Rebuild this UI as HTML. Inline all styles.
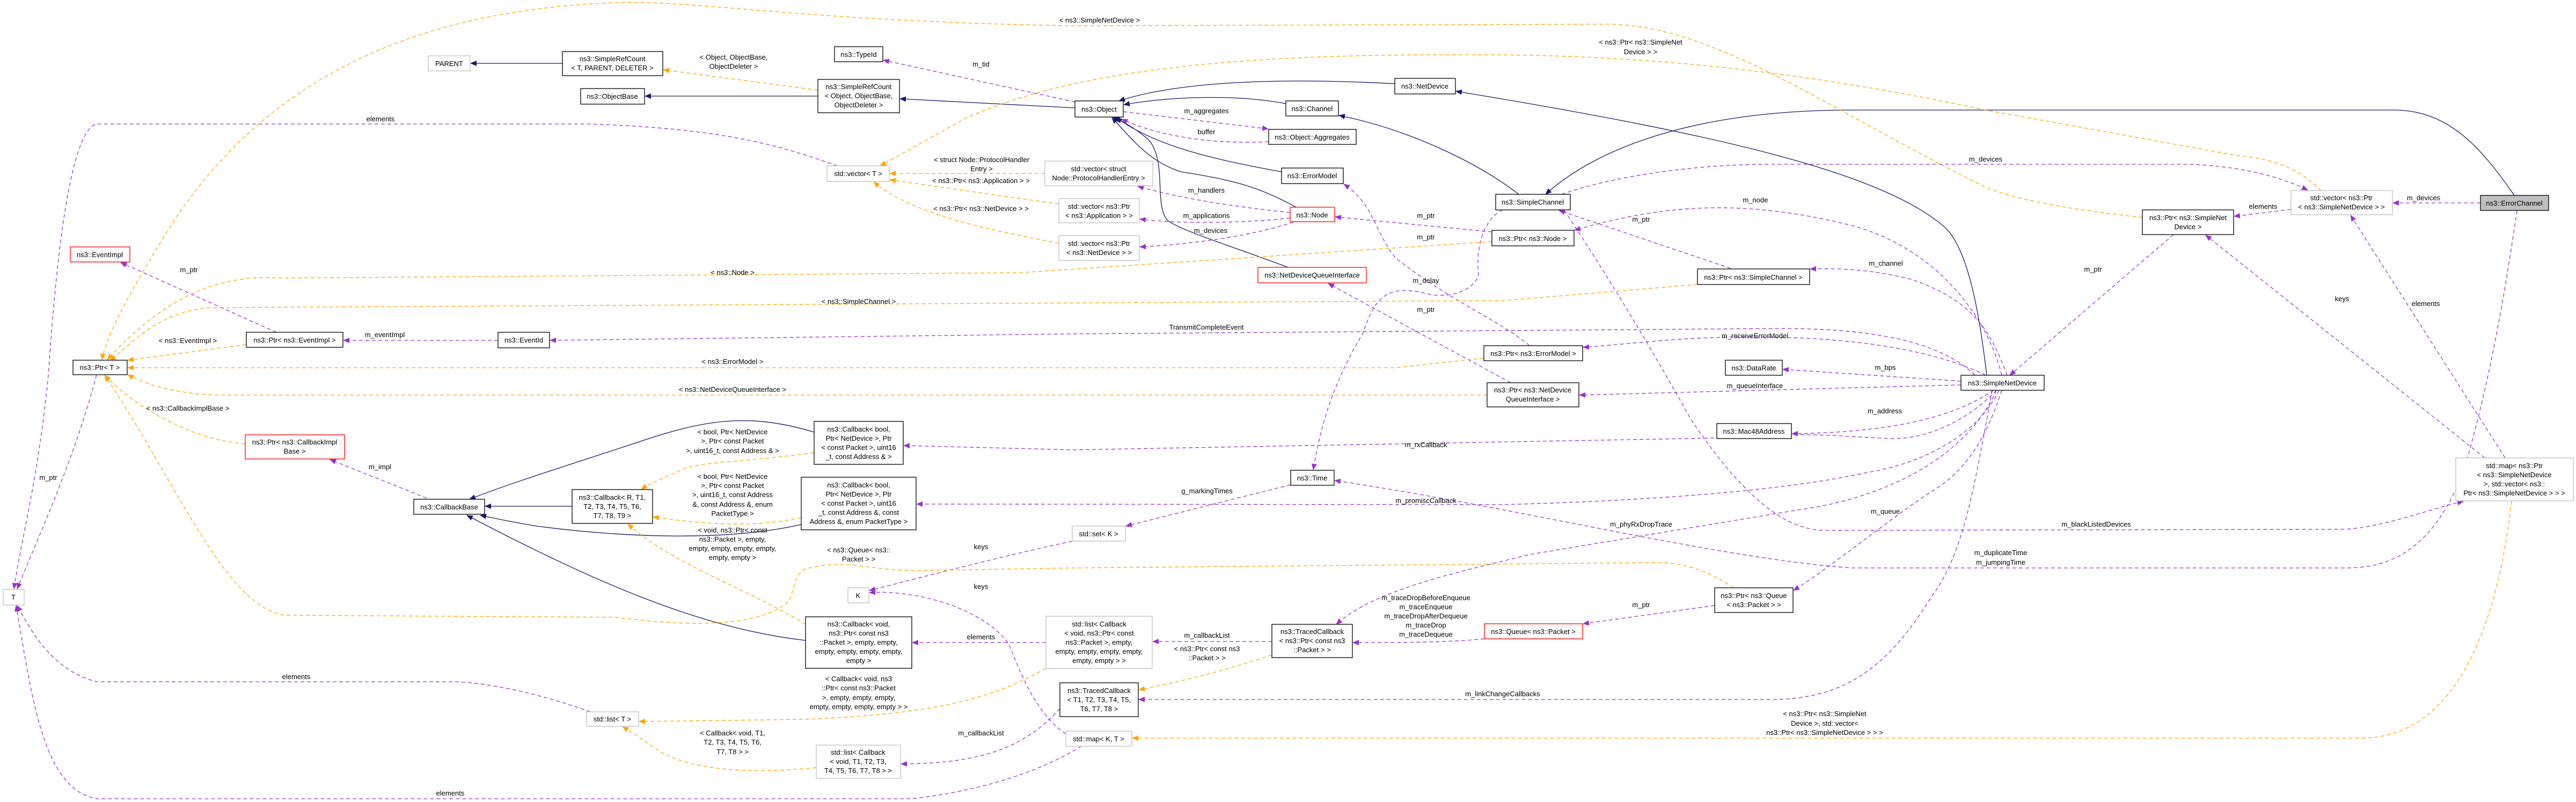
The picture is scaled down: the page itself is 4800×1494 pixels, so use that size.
<!DOCTYPE html>
<html><head><meta charset="utf-8"><style>
html,body{margin:0;padding:0;background:#fff;}
svg{display:block;}
text{font-family:"Liberation Sans",Arial,sans-serif;font-size:13px;fill:#000;}
.nt{text-anchor:middle;}
.lb{text-anchor:middle;}
.b{fill:#fff;stroke:#000;stroke-width:1.3;}
.g{fill:#fff;stroke:#bfbfbf;stroke-width:1.3;}
.r{fill:#fff;stroke:#ff0000;stroke-width:1.3;}
.f{fill:#bfbfbf;stroke:#000;stroke-width:1.3;}
.n{fill:none;stroke:#191970;stroke-width:1.3;}
.p{fill:none;stroke:#9a32cd;stroke-width:1.3;stroke-dasharray:7,5;}
.o{fill:none;stroke:#ffa500;stroke-width:1.3;stroke-dasharray:7,5;}
</style></head><body>
<svg width="4800" height="1494" viewBox="0 0 4800 1494" xmlns="http://www.w3.org/2000/svg">
<defs>
<marker id="an" markerWidth="12" markerHeight="10" refX="11" refY="5" orient="auto" markerUnits="userSpaceOnUse"><path d="M0,0 L12,5 L0,10 z" fill="#191970"/></marker>
<marker id="ap" markerWidth="12" markerHeight="10" refX="11" refY="5" orient="auto" markerUnits="userSpaceOnUse"><path d="M0,0 L12,5 L0,10 z" fill="#9a32cd"/></marker>
<marker id="ao" markerWidth="12" markerHeight="10" refX="11" refY="5" orient="auto" markerUnits="userSpaceOnUse"><path d="M0,0 L12,5 L0,10 z" fill="#ffa500"/></marker>
</defs>

<!-- ===== EDGES ===== -->
<!-- navy inheritance -->
<path class="n" marker-end="url(#an)" d="M1048,118 L877,118"/>
<path class="n" marker-end="url(#an)" d="M1524,179 L1202,179"/>
<path class="n" marker-end="url(#an)" d="M2003,201 L1677,184"/>
<path class="n" marker-end="url(#an)" d="M2396,193 C2300,175 2180,180 2094,195"/>
<path class="n" marker-end="url(#an)" d="M2599,156 C2400,145 2200,150 2085,188"/>
<path class="n" marker-end="url(#an)" d="M2388,320 C2250,295 2150,270 2080,219"/>
<path class="n" marker-end="url(#an)" d="M2415,386 C2350,350 2300,335 2200,320 C2140,300 2110,260 2072,219"/>
<path class="n" marker-end="url(#an)" d="M2400,498 C2300,460 2200,430 2175,410 C2150,380 2175,300 2140,260 C2110,235 2090,225 2075,219"/>
<path class="n" marker-end="url(#an)" d="M2830,362 C2750,300 2620,240 2495,215"/>
<path class="n" marker-end="url(#an)" d="M3702,699 C3690,600 3670,460 3620,420 C3500,320 3200,250 2713,170"/>
<path class="n" marker-end="url(#an)" d="M4685,364 C4620,270 4560,205 4460,205 L3450,205 C3150,205 2970,280 2880,362"/>
<path class="n" marker-end="url(#an)" d="M1066,943 L904,943"/>
<path class="n" marker-end="url(#an)" d="M1517,805 C1400,770 1320,780 1200,820 C1080,860 950,900 875,930"/>
<path class="n" marker-end="url(#an)" d="M1493,977 C1350,1010 1150,1000 1000,980 C950,972 920,965 895,960"/>
<path class="n" marker-end="url(#an)" d="M1501,1193 C1300,1170 1100,1080 870,960"/>

<!-- purple members -->
<path class="p" marker-end="url(#ap)" d="M2003,190 L1646,112"/>
<path class="p" marker-end="url(#ap)" d="M2093,208 L2363,240"/>
<path class="p" marker-end="url(#ap)" d="M2364,264 C2250,270 2150,250 2090,222"/>
<path class="p" marker-end="url(#ap)" d="M2404,396 C2300,385 2200,370 2120,347"/>
<path class="p" marker-end="url(#ap)" d="M2404,406 C2330,415 2200,418 2124,408"/>
<path class="p" marker-end="url(#ap)" d="M2410,414 C2330,440 2220,455 2124,460"/>
<path class="p" marker-end="url(#ap)" d="M4622,378 L4459,378"/>
<path class="p" marker-end="url(#ap)" d="M4269,390 L4163,403"/>
<path class="p" marker-end="url(#ap)" d="M4050,437 L3745,699"/>
<path class="p" marker-end="url(#ap)" d="M2910,362 C3000,330 3150,306 3300,306 L4080,306 C4180,310 4250,330 4300,354"/>
<path class="p" marker-end="url(#ap)" d="M3740,699 C3710,620 3680,560 3560,520 C3480,500 3420,500 3373,501"/>
<path class="p" marker-end="url(#ap)" d="M3225,500 L2905,392"/>
<path class="p" marker-end="url(#ap)" d="M3730,699 C3700,580 3600,460 3450,420 C3250,370 3100,380 2934,429"/>
<path class="p" marker-end="url(#ap)" d="M2780,432 L2488,404"/>
<path class="p" marker-end="url(#ap)" d="M2800,391 C2760,410 2750,470 2755,510 C2750,540 2700,560 2650,545 C2580,530 2560,560 2540,620 C2480,720 2460,800 2447,875"/>
<path class="p" marker-end="url(#ap)" d="M928,634 L640,634"/>
<path class="p" marker-end="url(#ap)" d="M515,619 L225,489"/>
<path class="p" marker-end="url(#ap)" d="M3680,699 C3620,640 3500,610 3300,612 L2000,622 L1025,634"/>
<path class="p" marker-end="url(#ap)" d="M2850,644 C2800,600 2700,560 2600,480 C2560,430 2560,380 2504,343"/>
<path class="p" marker-end="url(#ap)" d="M3700,699 C3600,650 3450,630 3300,628 C3150,625 3050,640 2950,647"/>
<path class="p" marker-end="url(#ap)" d="M2815,713 L2475,528"/>
<path class="p" marker-end="url(#ap)" d="M3654,710 L3322,688"/>
<path class="p" marker-end="url(#ap)" d="M3654,717 L2943,736"/>
<path class="p" marker-end="url(#ap)" d="M3715,727 C3650,770 3550,805 3339,808"/>
<path class="p" marker-end="url(#ap)" d="M3720,727 C3660,790 3580,820 3520,817 C3420,812 3360,805 3250,815 L2000,838 L1684,830"/>
<path class="p" marker-end="url(#ap)" d="M3725,727 C3690,800 3600,860 3480,880 C3300,920 3000,935 2800,940 L1708,939"/>
<path class="p" marker-end="url(#ap)" d="M4690,392 C4660,600 4630,744 4590,880 C4530,1030 4450,1058 4370,1058 L3450,1058 C3200,1040 2850,950 2487,895"/>
<path class="p" marker-end="url(#ap)" d="M2915,392 C2960,460 3050,600 3150,780 C3250,930 3330,988 3400,988 L4370,986 C4450,980 4520,950 4590,934"/>
<path class="p" marker-end="url(#ap)" d="M4630,853 L4110,438"/>
<path class="p" marker-end="url(#ap)" d="M4668,853 L4380,401"/>
<path class="p" marker-end="url(#ap)" d="M3730,727 C3700,820 3660,880 3600,915 C3530,960 3420,1050 3342,1100"/>
<path class="p" marker-end="url(#ap)" d="M3195,1128 L2950,1162"/>
<path class="p" marker-end="url(#ap)" d="M2766,1190 C2700,1197 2600,1197 2521,1197"/>
<path class="p" marker-end="url(#ap)" d="M2370,1195 L2148,1195"/>
<path class="p" marker-end="url(#ap)" d="M3720,727 C3660,860 3500,930 3350,950 L2850,1033 C2700,1070 2560,1100 2490,1163"/>
<path class="p" marker-end="url(#ap)" d="M3712,727 C3680,900 3660,1030 3600,1110 C3520,1240 3440,1303 3300,1303 L2122,1303"/>
<path class="p" marker-end="url(#ap)" d="M1949,1197 L1700,1197"/>
<path class="p" marker-end="url(#ap)" d="M1975,1320 C1920,1380 1850,1423 1679,1423"/>
<path class="p" marker-end="url(#ap)" d="M795,928 L615,856"/>
<path class="p" marker-end="url(#ap)" d="M180,698 C140,850 80,980 32,1097"/>
<path class="p" marker-end="url(#ap)" d="M1560,309 C1450,270 1350,240 1100,231 L180,231 C140,240 110,400 90,700 C70,900 40,1000 26,1097"/>
<path class="p" marker-end="url(#ap)" d="M1100,1326 C1000,1290 900,1270 840,1270 L180,1270 C100,1250 60,1180 32,1128"/>
<path class="p" marker-end="url(#ap)" d="M2015,1390 C1950,1430 1850,1470 1700,1488 L180,1488 C80,1470 60,1300 30,1128"/>
<path class="p" marker-end="url(#ap)" d="M1998,1008 C1850,1040 1700,1080 1620,1100"/>
<path class="p" marker-end="url(#ap)" d="M1986,1367 C1930,1330 1900,1250 1880,1200 C1830,1130 1700,1098 1620,1104"/>
<path class="p" marker-end="url(#ap)" d="M2405,903 L2098,980"/>

<!-- orange template -->
<path class="o" marker-end="url(#ao)" d="M1524,168 L1236,130"/>
<path class="o" marker-end="url(#ao)" d="M1947,323 L1658,323"/>
<path class="o" marker-end="url(#ao)" d="M1973,380 L1658,335"/>
<path class="o" marker-end="url(#ao)" d="M1973,453 C1850,430 1700,400 1628,339"/>
<path class="o" marker-end="url(#ao)" d="M4325,355 C4280,310 4230,295 4170,290 L3700,205 C3300,120 3000,100 2700,102 C2300,102 2000,130 1800,220 L1640,309"/>
<path class="o" marker-end="url(#ao)" d="M3992,405 C3850,390 3750,370 3700,349 C3400,200 3200,50 3000,45 L2000,48 C1500,40 1300,0 1150,5 C700,20 450,200 300,450 C220,580 195,640 190,670"/>
<path class="o" marker-end="url(#ao)" d="M2780,450 L1900,508 L520,518 C400,510 300,560 200,670"/>
<path class="o" marker-end="url(#ao)" d="M3163,530 L2800,560 L400,573 C300,575 245,640 205,672"/>
<path class="o" marker-end="url(#ao)" d="M459,642 L238,671"/>
<path class="o" marker-end="url(#ao)" d="M2765,667 L2600,685 L238,685"/>
<path class="o" marker-end="url(#ao)" d="M2771,736 L400,736 C320,732 270,715 238,698"/>
<path class="o" marker-end="url(#ao)" d="M3230,1095 C3180,1060 3130,1048 3090,1048 L2000,1058 L1700,1063 C1600,1060 1580,1040 1500,1060 C1480,1070 1480,1100 1470,1120 C1420,1165 1300,1170 1150,1150 L530,1146 C420,1130 330,900 195,699"/>
<path class="o" marker-end="url(#ao)" d="M457,827 C380,820 320,790 270,760 C240,740 215,720 195,699"/>
<path class="o" marker-end="url(#ao)" d="M2370,1220 C2280,1250 2200,1270 2122,1285"/>
<path class="o" marker-end="url(#ao)" d="M4680,933 C4650,1200 4560,1375 4400,1375 L2110,1375"/>
<path class="o" marker-end="url(#ao)" d="M1521,1430 C1420,1440 1300,1440 1230,1400 C1200,1380 1180,1365 1160,1354"/>
<path class="o" marker-end="url(#ao)" d="M1949,1245 C1850,1300 1750,1330 1500,1340 L1191,1344"/>
<path class="o" marker-end="url(#ao)" d="M1501,1163 C1400,1100 1250,1050 1170,976"/>
<path class="o" marker-end="url(#ao)" d="M1517,843 C1400,860 1300,860 1270,875 C1240,890 1210,900 1195,912"/>
<path class="o" marker-end="url(#ao)" d="M1493,964 C1400,985 1300,975 1217,963"/>

<!-- ===== EDGE LABELS ===== -->
<text class="lb" x="1367" y="111">&lt; Object, ObjectBase,</text>
<text class="lb" x="1367" y="128">ObjectDeleter &gt;</text>
<text class="lb" x="1828" y="124">m_tid</text>
<text class="lb" x="2248" y="211">m_aggregates</text>
<text class="lb" x="2248" y="250">buffer</text>
<text class="lb" x="2248" y="359">m_handlers</text>
<text class="lb" x="2248" y="406">m_applications</text>
<text class="lb" x="2256" y="434">m_devices</text>
<text class="lb" x="1829" y="302">&lt; struct Node::ProtocolHandler</text>
<text class="lb" x="1829" y="319">Entry &gt;</text>
<text class="lb" x="1828" y="341">&lt; ns3::Ptr&lt; ns3::Application &gt; &gt;</text>
<text class="lb" x="1828" y="393">&lt; ns3::Ptr&lt; ns3::NetDevice &gt; &gt;</text>
<text class="lb" x="2049" y="42">&lt; ns3::SimpleNetDevice &gt;</text>
<text class="lb" x="3057" y="83">&lt; ns3::Ptr&lt; ns3::SimpleNet</text>
<text class="lb" x="3057" y="101">Device &gt; &gt;</text>
<text class="lb" x="3700" y="301">m_devices</text>
<text class="lb" x="4516" y="373">m_devices</text>
<text class="lb" x="4217" y="389">elements</text>
<text class="lb" x="3900" y="506">m_ptr</text>
<text class="lb" x="4364" y="561">keys</text>
<text class="lb" x="4520" y="570">elements</text>
<text class="lb" x="3271" y="377">m_node</text>
<text class="lb" x="3058" y="413">m_ptr</text>
<text class="lb" x="2657" y="406">m_ptr</text>
<text class="lb" x="2657" y="446">m_ptr</text>
<text class="lb" x="2657" y="527">m_delay</text>
<text class="lb" x="2657" y="581">m_ptr</text>
<text class="lb" x="3514" y="495">m_channel</text>
<text class="lb" x="1365" y="512">&lt; ns3::Node &gt;</text>
<text class="lb" x="1600" y="566">&lt; ns3::SimpleChannel &gt;</text>
<text class="lb" x="2248" y="614">TransmitCompleteEvent</text>
<text class="lb" x="1365" y="678">&lt; ns3::ErrorModel &gt;</text>
<text class="lb" x="1365" y="730">&lt; ns3::NetDeviceQueueInterface &gt;</text>
<text class="lb" x="3270" y="630">m_receiveErrorModel</text>
<text class="lb" x="3513" y="689">m_bps</text>
<text class="lb" x="3270" y="723">m_queueInterface</text>
<text class="lb" x="3512" y="770">m_address</text>
<text class="lb" x="2657" y="833">m_rxCallback</text>
<text class="lb" x="2657" y="937">m_promiscCallback</text>
<text class="lb" x="3058" y="981">m_phyRxDropTrace</text>
<text class="lb" x="3513" y="957">m_queue</text>
<text class="lb" x="3906" y="981">m_blackListedDevices</text>
<text class="lb" x="3728" y="1034">m_duplicateTime</text>
<text class="lb" x="3728" y="1052">m_jumpingTime</text>
<text class="lb" x="3058" y="1131">m_ptr</text>
<text class="lb" x="2657" y="1118">m_traceDropBeforeEnqueue</text>
<text class="lb" x="2657" y="1135">m_traceEnqueue</text>
<text class="lb" x="2657" y="1152">m_traceDropAfterDequeue</text>
<text class="lb" x="2657" y="1169">m_traceDrop</text>
<text class="lb" x="2657" y="1186">m_traceDequeue</text>
<text class="lb" x="2249" y="1188">m_callbackList</text>
<text class="lb" x="2249" y="1213">&lt; ns3::Ptr&lt; const ns3</text>
<text class="lb" x="2249" y="1230">::Packet &gt; &gt;</text>
<text class="lb" x="2800" y="1297">m_linkChangeCallbacks</text>
<text class="lb" x="3400" y="1334">&lt; ns3::Ptr&lt; ns3::SimpleNet</text>
<text class="lb" x="3400" y="1352">Device &gt;, std::vector&lt;</text>
<text class="lb" x="3400" y="1369">ns3::Ptr&lt; ns3::SimpleNetDevice &gt; &gt; &gt;</text>
<text class="lb" x="2249" y="919">g_markingTimes</text>
<text class="lb" x="1828" y="1023">keys</text>
<text class="lb" x="1828" y="1097">keys</text>
<text class="lb" x="1828" y="1191">elements</text>
<text class="lb" x="1828" y="1370">m_callbackList</text>
<text class="lb" x="1365" y="809">&lt; bool, Ptr&lt; NetDevice</text>
<text class="lb" x="1365" y="826">&gt;, Ptr&lt; const Packet</text>
<text class="lb" x="1365" y="844">&gt;, uint16_t, const Address &amp; &gt;</text>
<text class="lb" x="1365" y="892">&lt; bool, Ptr&lt; NetDevice</text>
<text class="lb" x="1365" y="909">&gt;, Ptr&lt; const Packet</text>
<text class="lb" x="1365" y="926">&gt;, uint16_t, const Address</text>
<text class="lb" x="1365" y="944">&amp;, const Address &amp;, enum</text>
<text class="lb" x="1365" y="961">PacketType &gt;</text>
<text class="lb" x="1365" y="992">&lt; void, ns3::Ptr&lt; const</text>
<text class="lb" x="1365" y="1009">ns3::Packet &gt;, empty,</text>
<text class="lb" x="1365" y="1026">empty, empty, empty, empty,</text>
<text class="lb" x="1365" y="1043">empty, empty &gt;</text>
<text class="lb" x="1600" y="1029">&lt; ns3::Queue&lt; ns3::</text>
<text class="lb" x="1600" y="1046">Packet &gt; &gt;</text>
<text class="lb" x="1600" y="1269">&lt; Callback&lt; void, ns3</text>
<text class="lb" x="1600" y="1286">::Ptr&lt; const ns3::Packet</text>
<text class="lb" x="1600" y="1304">&gt;, empty, empty, empty,</text>
<text class="lb" x="1600" y="1321">empty, empty, empty, empty &gt; &gt;</text>
<text class="lb" x="1365" y="1370">&lt; Callback&lt; void, T1,</text>
<text class="lb" x="1365" y="1387">T2, T3, T4, T5, T6,</text>
<text class="lb" x="1365" y="1405">T7, T8 &gt; &gt;</text>
<text class="lb" x="709" y="226">elements</text>
<text class="lb" x="352" y="507">m_ptr</text>
<text class="lb" x="350" y="639">&lt; ns3::EventImpl &gt;</text>
<text class="lb" x="717" y="628">m_eventImpl</text>
<text class="lb" x="350" y="765">&lt; ns3::CallbackImplBase &gt;</text>
<text class="lb" x="708" y="874">m_impl</text>
<text class="lb" x="90" y="894">m_ptr</text>
<text class="lb" x="552" y="1265">elements</text>
<text class="lb" x="839" y="1482">elements</text>

<!-- ===== NODES ===== -->
<rect class="g" x="798" y="104" width="78" height="28"/><text class="nt" x="837" y="123">PARENT</text>
<rect class="b" x="1048" y="96" width="187" height="45"/><text class="nt" x="1141" y="114">ns3::SimpleRefCount</text><text class="nt" x="1141" y="131">&lt; T, PARENT, DELETER &gt;</text>
<rect class="b" x="1082" y="165" width="119" height="29"/><text class="nt" x="1141" y="184">ns3::ObjectBase</text>
<rect class="b" x="1524" y="148" width="152" height="62"/><text class="nt" x="1600" y="166">ns3::SimpleRefCount</text><text class="nt" x="1600" y="183">&lt; Object, ObjectBase,</text><text class="nt" x="1600" y="200">ObjectDeleter &gt;</text>
<rect class="b" x="1555" y="87" width="90" height="28"/><text class="nt" x="1600" y="106">ns3::TypeId</text>
<rect class="g" x="1541" y="309" width="116" height="29"/><text class="nt" x="1599" y="328">std::vector&lt; T &gt;</text>
<rect class="b" x="2003" y="188" width="90" height="30"/><text class="nt" x="2048" y="208">ns3::Object</text>
<rect class="b" x="2599" y="146" width="113" height="29"/><text class="nt" x="2655" y="165">ns3::NetDevice</text>
<rect class="b" x="2396" y="188" width="98" height="28"/><text class="nt" x="2445" y="207">ns3::Channel</text>
<rect class="b" x="2364" y="241" width="163" height="28"/><text class="nt" x="2445" y="260">ns3::Object::Aggregates</text>
<rect class="g" x="1947" y="300" width="201" height="46"/><text class="nt" x="2047" y="319">std::vector&lt; struct</text><text class="nt" x="2047" y="336">Node::ProtocolHandlerEntry &gt;</text>
<rect class="g" x="1973" y="370" width="150" height="45"/><text class="nt" x="2048" y="389">std::vector&lt; ns3::Ptr</text><text class="nt" x="2048" y="406">&lt; ns3::Application &gt; &gt;</text>
<rect class="g" x="1973" y="439" width="150" height="46"/><text class="nt" x="2048" y="458">std::vector&lt; ns3::Ptr</text><text class="nt" x="2048" y="475">&lt; ns3::NetDevice &gt; &gt;</text>
<rect class="b" x="2388" y="313" width="115" height="29"/><text class="nt" x="2445" y="332">ns3::ErrorModel</text>
<rect class="r" x="2404" y="386" width="83" height="27"/><text class="nt" x="2445" y="405">ns3::Node</text>
<rect class="r" x="2344" y="498" width="202" height="29"/><text class="nt" x="2445" y="517">ns3::NetDeviceQueueInterface</text>
<rect class="b" x="2787" y="362" width="139" height="29"/><text class="nt" x="2856" y="381">ns3::SimpleChannel</text>
<rect class="b" x="2780" y="429" width="153" height="29"/><text class="nt" x="2856" y="449">ns3::Ptr&lt; ns3::Node &gt;</text>
<rect class="b" x="3163" y="501" width="209" height="29"/><text class="nt" x="3267" y="521">ns3::Ptr&lt; ns3::SimpleChannel &gt;</text>
<rect class="b" x="2765" y="644" width="184" height="28"/><text class="nt" x="2857" y="663">ns3::Ptr&lt; ns3::ErrorModel &gt;</text>
<rect class="b" x="3215" y="671" width="106" height="28"/><text class="nt" x="3268" y="690">ns3::DataRate</text>
<rect class="b" x="2771" y="713" width="171" height="45"/><text class="nt" x="2856" y="731">ns3::Ptr&lt; ns3::NetDevice</text><text class="nt" x="2856" y="748">QueueInterface &gt;</text>
<rect class="b" x="3654" y="699" width="155" height="28"/><text class="nt" x="3731" y="718">ns3::SimpleNetDevice</text>
<rect class="g" x="4269" y="355" width="189" height="45"/><text class="nt" x="4363" y="373">std::vector&lt; ns3::Ptr</text><text class="nt" x="4363" y="390">&lt; ns3::SimpleNetDevice &gt; &gt;</text>
<rect class="b" x="3992" y="391" width="170" height="46"/><text class="nt" x="4077" y="410">ns3::Ptr&lt; ns3::SimpleNet</text><text class="nt" x="4077" y="427">Device &gt;</text>
<rect class="f" x="4622" y="364" width="127" height="28"/><text class="nt" x="4685" y="383">ns3::ErrorChannel</text>
<rect class="r" x="131" y="460" width="111" height="28"/><text class="nt" x="186" y="479">ns3::EventImpl</text>
<rect class="b" x="459" y="619" width="180" height="28"/><text class="nt" x="549" y="638">ns3::Ptr&lt; ns3::EventImpl &gt;</text>
<rect class="b" x="928" y="619" width="96" height="29"/><text class="nt" x="976" y="638">ns3::EventId</text>
<rect class="b" x="136" y="671" width="101" height="27"/><text class="nt" x="186" y="689">ns3::Ptr&lt; T &gt;</text>
<rect class="r" x="457" y="810" width="185" height="45"/><text class="nt" x="549" y="828">ns3::Ptr&lt; ns3::CallbackImpl</text><text class="nt" x="549" y="845">Base &gt;</text>
<rect class="b" x="771" y="930" width="132" height="28"/><text class="nt" x="837" y="949">ns3::CallbackBase</text>
<rect class="g" x="6" y="1098" width="39" height="29"/><text class="nt" x="25" y="1117">T</text>
<rect class="b" x="1517" y="785" width="166" height="80"/><text class="nt" x="1600" y="804">ns3::Callback&lt; bool,</text><text class="nt" x="1600" y="821">Ptr&lt; NetDevice &gt;, Ptr</text><text class="nt" x="1600" y="838">&lt; const Packet &gt;, uint16</text><text class="nt" x="1600" y="855">_t, const Address &amp; &gt;</text>
<rect class="b" x="1066" y="912" width="150" height="63"/><text class="nt" x="1141" y="931">ns3::Callback&lt; R, T1,</text><text class="nt" x="1141" y="948">T2, T3, T4, T5, T6,</text><text class="nt" x="1141" y="965">T7, T8, T9 &gt;</text>
<rect class="b" x="1493" y="889" width="214" height="98"/><text class="nt" x="1600" y="908">ns3::Callback&lt; bool,</text><text class="nt" x="1600" y="925">Ptr&lt; NetDevice &gt;, Ptr</text><text class="nt" x="1600" y="942">&lt; const Packet &gt;, uint16</text><text class="nt" x="1600" y="959">_t, const Address &amp;, const</text><text class="nt" x="1600" y="976">Address &amp;, enum PacketType &gt;</text>
<rect class="g" x="1580" y="1095" width="39" height="28"/><text class="nt" x="1599" y="1114">K</text>
<rect class="b" x="1501" y="1149" width="198" height="96"/><text class="nt" x="1600" y="1167">ns3::Callback&lt; void,</text><text class="nt" x="1600" y="1184">ns3::Ptr&lt; const ns3</text><text class="nt" x="1600" y="1201">::Packet &gt;, empty, empty,</text><text class="nt" x="1600" y="1218">empty, empty, empty, empty,</text><text class="nt" x="1600" y="1235">empty &gt;</text>
<rect class="g" x="1093" y="1326" width="97" height="27"/><text class="nt" x="1141" y="1344">std::list&lt; T &gt;</text>
<rect class="g" x="1521" y="1388" width="157" height="62"/><text class="nt" x="1599" y="1406">std::list&lt; Callback</text><text class="nt" x="1599" y="1423">&lt; void, T1, T2, T3,</text><text class="nt" x="1599" y="1440">T4, T5, T6, T7, T8 &gt; &gt;</text>
<rect class="b" x="2405" y="876" width="81" height="28"/><text class="nt" x="2445" y="895">ns3::Time</text>
<rect class="g" x="1998" y="980" width="99" height="28"/><text class="nt" x="2047" y="999">std::set&lt; K &gt;</text>
<rect class="g" x="1949" y="1148" width="198" height="97"/><text class="nt" x="2048" y="1167">std::list&lt; Callback</text><text class="nt" x="2048" y="1184">&lt; void, ns3::Ptr&lt; const</text><text class="nt" x="2048" y="1201">ns3::Packet &gt;, empty,</text><text class="nt" x="2048" y="1218">empty, empty, empty, empty,</text><text class="nt" x="2048" y="1235">empty, empty &gt; &gt;</text>
<rect class="b" x="2370" y="1163" width="150" height="62"/><text class="nt" x="2445" y="1181">ns3::TracedCallback</text><text class="nt" x="2445" y="1198">&lt; ns3::Ptr&lt; const ns3</text><text class="nt" x="2445" y="1215">::Packet &gt; &gt;</text>
<rect class="b" x="1975" y="1272" width="146" height="63"/><text class="nt" x="2048" y="1291">ns3::TracedCallback</text><text class="nt" x="2048" y="1308">&lt; T1, T2, T3, T4, T5,</text><text class="nt" x="2048" y="1325">T6, T7, T8 &gt;</text>
<rect class="g" x="1986" y="1362" width="123" height="28"/><text class="nt" x="2047" y="1381">std::map&lt; K, T &gt;</text>
<rect class="r" x="2766" y="1162" width="183" height="28"/><text class="nt" x="2857" y="1181">ns3::Queue&lt; ns3::Packet &gt;</text>
<rect class="b" x="3199" y="789" width="139" height="28"/><text class="nt" x="3268" y="808">ns3::Mac48Address</text>
<rect class="b" x="3195" y="1095" width="146" height="46"/><text class="nt" x="3268" y="1114">ns3::Ptr&lt; ns3::Queue</text><text class="nt" x="3268" y="1131">&lt; ns3::Packet &gt; &gt;</text>
<rect class="g" x="4576" y="853" width="219" height="80"/><text class="nt" x="4685" y="872">std::map&lt; ns3::Ptr</text><text class="nt" x="4685" y="889">&lt; ns3::SimpleNetDevice</text><text class="nt" x="4685" y="906">&gt;, std::vector&lt; ns3::</text><text class="nt" x="4685" y="923">Ptr&lt; ns3::SimpleNetDevice &gt; &gt; &gt;</text>
</svg>
</body></html>
